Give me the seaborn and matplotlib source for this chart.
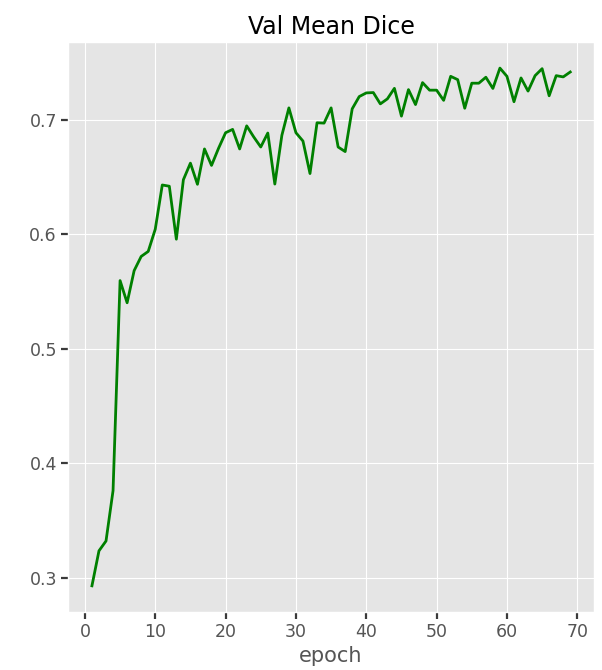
import pandas as pd
import matplotlib.pyplot as plt
import seaborn as sns

epochs = list(range(1, 70))
val_mean_dice = [
    0.2928, 0.3234, 0.3320, 0.3760, 0.5597, 0.5403, 0.5684, 0.5808, 0.5852, 0.6046,
    0.6433, 0.6422, 0.5959, 0.6479, 0.6624, 0.6439, 0.6748, 0.6604, 0.6754, 0.6890,
    0.6919, 0.6748, 0.6950, 0.6853, 0.6765, 0.6887, 0.6441, 0.6867, 0.7107, 0.6890,
    0.6817, 0.6533, 0.6977, 0.6974, 0.7107, 0.6765, 0.6725, 0.7099, 0.7206, 0.7238,
    0.7241, 0.7142, 0.7186, 0.7278, 0.7035, 0.7267, 0.7136, 0.7328, 0.7262, 0.7262,
    0.7173, 0.7383, 0.7354, 0.7104, 0.7323, 0.7323, 0.7375, 0.7277, 0.7455, 0.7383,
    0.7161, 0.7369, 0.7254, 0.7389, 0.7450, 0.7213, 0.7389, 0.7378, 0.7421,
]

df = pd.DataFrame({'epoch': epochs, 'dice': val_mean_dice})

plt.style.use('ggplot')
fig = plt.figure(figsize=(6.02, 6.70), dpi=100)
ax = fig.add_axes([0.113, 0.087, 0.874, 0.85])

sns.lineplot(x='epoch', y='dice', data=df, color='green', linewidth=2, ax=ax)
ax.set_title('Val Mean Dice', fontsize=17, color='black')
ax.set_xlabel('epoch', fontsize=15, color='#555555')
ax.set_ylabel('')
ax.set_xticks(range(0, 71, 10))
ax.set_yticks([0.3, 0.4, 0.5, 0.6, 0.7])
ax.tick_params(labelsize=12.5, labelcolor='#555555', color='#3a3a3a',
               length=5, width=1.6, direction='out', pad=3,
               bottom=True, left=True)

fig.savefig('out.png', dpi=100)
plt.close()
